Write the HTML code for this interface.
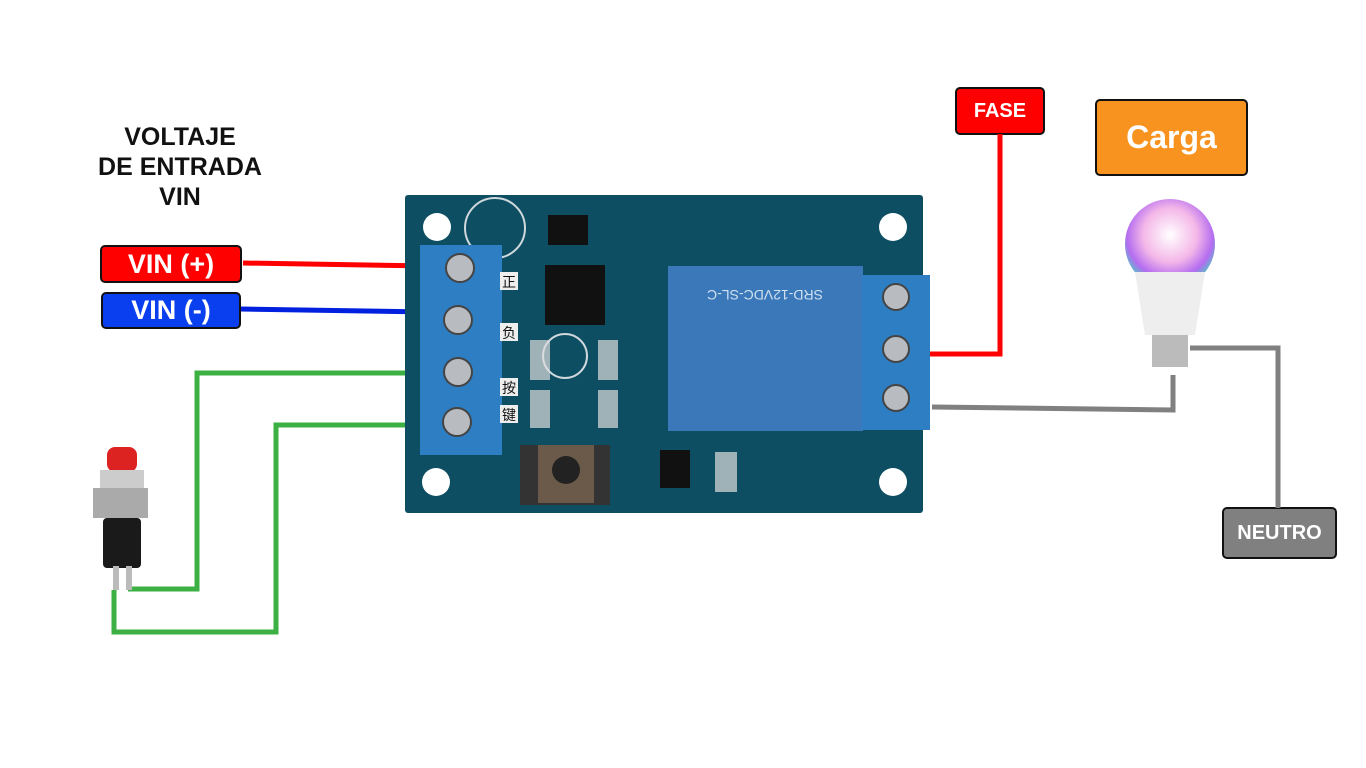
<!DOCTYPE html>
<html><head><meta charset="utf-8"><style>
body{margin:0;width:1366px;height:768px;background:#fff;position:relative;overflow:hidden;font-family:"Liberation Sans","Noto Sans CJK SC",sans-serif}
.a{position:absolute}
.lbl{position:absolute;border:2px solid #111;border-radius:5px;color:#fff;font-weight:bold;display:flex;align-items:center;justify-content:center;box-sizing:border-box}
</style></head><body>
<div class="a" style="left:80px;top:122px;width:200px;text-align:center;font-weight:900;font-size:25px;line-height:30px;color:#111">VOLTAJE<br>DE ENTRADA<br>VIN</div>
<div class="lbl" style="left:100px;top:245px;width:142px;height:38px;background:#f00;font-size:27px">VIN (+)</div>
<div class="lbl" style="left:101px;top:292px;width:140px;height:37px;background:#0a3ff0;font-size:27px">VIN (-)</div>
<div class="lbl" style="left:955px;top:87px;width:90px;height:48px;background:#f00;font-size:20px">FASE</div>
<div class="lbl" style="left:1095px;top:99px;width:153px;height:77px;background:#f7931e;font-size:32px">Carga</div>
<div class="lbl" style="left:1222px;top:507px;width:115px;height:52px;background:#808080;font-size:20px">NEUTRO</div>

<svg class="a" style="left:0;top:0" width="1366" height="768">
<g fill="none" stroke-width="5">
<path d="M243 263 L432 266" stroke="#f00"/>
<path d="M241 309 L430 312" stroke="#0020e0"/>
<path d="M420 373 L197 373 L197 589 L128 589" stroke="#3cb043"/>
<path d="M420 425 L276 425 L276 632 L114 632 L114 590" stroke="#3cb043"/>
<path d="M920 354 L1000 354 L1000 134" stroke="#f00"/>
<path d="M932 407 L1173 410 L1173 375" stroke="#808080"/>
<path d="M1190 348 L1278 348 L1278 508" stroke="#808080"/>
</g>
<!-- board -->
<rect x="405" y="195" width="518" height="318" fill="#0e4e62" rx="3"/>
<g fill="#fff"><circle cx="437" cy="227" r="14"/><circle cx="893" cy="227" r="14"/><circle cx="436" cy="482" r="14"/><circle cx="893" cy="482" r="14"/></g>
<rect x="545" y="265" width="60" height="60" fill="#111"/>
<rect x="548" y="215" width="40" height="30" fill="#111"/>
<circle cx="495" cy="228" r="30" fill="none" stroke="#cfd8dc" stroke-width="2"/>
<circle cx="565" cy="356" r="22" fill="none" stroke="#cfd8dc" stroke-width="2"/>
<rect x="520" y="445" width="90" height="60" fill="#333"/>
<rect x="538" y="445" width="56" height="58" fill="#6b5a4a"/>
<circle cx="566" cy="470" r="14" fill="#222"/>
<rect x="530" y="340" width="20" height="40" fill="#ddd" opacity=".7"/>
<rect x="598" y="340" width="20" height="40" fill="#ddd" opacity=".7"/>
<rect x="530" y="390" width="20" height="38" fill="#ddd" opacity=".7"/>
<rect x="598" y="390" width="20" height="38" fill="#ddd" opacity=".7"/>
<rect x="660" y="450" width="30" height="38" fill="#111"/>
<rect x="715" y="452" width="22" height="40" fill="#ddd" opacity=".7"/>
<!-- relay -->
<rect x="668" y="266" width="195" height="165" fill="#3a78b9"/>
<text x="765" y="290" font-size="14" fill="#cfe0f0" text-anchor="middle" transform="rotate(180 765 290)" font-family="Liberation Sans">SRD-12VDC-SL-C</text>
<!-- terminal blocks -->
<rect x="420" y="245" width="82" height="210" fill="#2e7ec4"/>
<rect x="862" y="275" width="68" height="155" fill="#2e7ec4"/>
<g fill="#b8bcc0" stroke="#444" stroke-width="2">
<circle cx="460" cy="268" r="14"/><circle cx="458" cy="320" r="14"/><circle cx="458" cy="372" r="14"/><circle cx="457" cy="422" r="14"/>
<circle cx="896" cy="297" r="13"/><circle cx="896" cy="349" r="13"/><circle cx="896" cy="398" r="13"/>
</g>
<g font-size="14" fill="#111"><rect x="500" y="272" width="18" height="18" fill="#eee"/><text x="502" y="287">正</text>
<rect x="500" y="323" width="18" height="18" fill="#eee"/><text x="502" y="338">负</text>
<rect x="500" y="378" width="18" height="18" fill="#eee"/><text x="502" y="393">按</text>
<rect x="500" y="405" width="18" height="18" fill="#eee"/><text x="502" y="420">键</text></g>
<!-- bulb -->
<defs><radialGradient id="g" cx="50%" cy="40%" r="60%"><stop offset="0" stop-color="#fff"/><stop offset=".5" stop-color="#f4b7e8"/><stop offset=".8" stop-color="#b46cf0"/><stop offset="1" stop-color="#44d0c0"/></radialGradient></defs>
<circle cx="1170" cy="244" r="45" fill="url(#g)"/>
<path d="M1135 272 L1205 272 L1195 335 L1145 335 Z" fill="#eee"/>
<rect x="1152" y="335" width="36" height="32" fill="#bbb"/>
<!-- push button -->
<rect x="107" y="447" width="30" height="25" rx="8" fill="#d22"/>
<rect x="100" y="470" width="44" height="18" fill="#ccc"/>
<rect x="93" y="488" width="55" height="30" fill="#aaa"/>
<rect x="103" y="518" width="38" height="50" rx="4" fill="#1a1a1a"/>
<rect x="113" y="566" width="6" height="24" fill="#bbb"/><rect x="126" y="566" width="6" height="24" fill="#bbb"/>
</svg>
</body></html>
